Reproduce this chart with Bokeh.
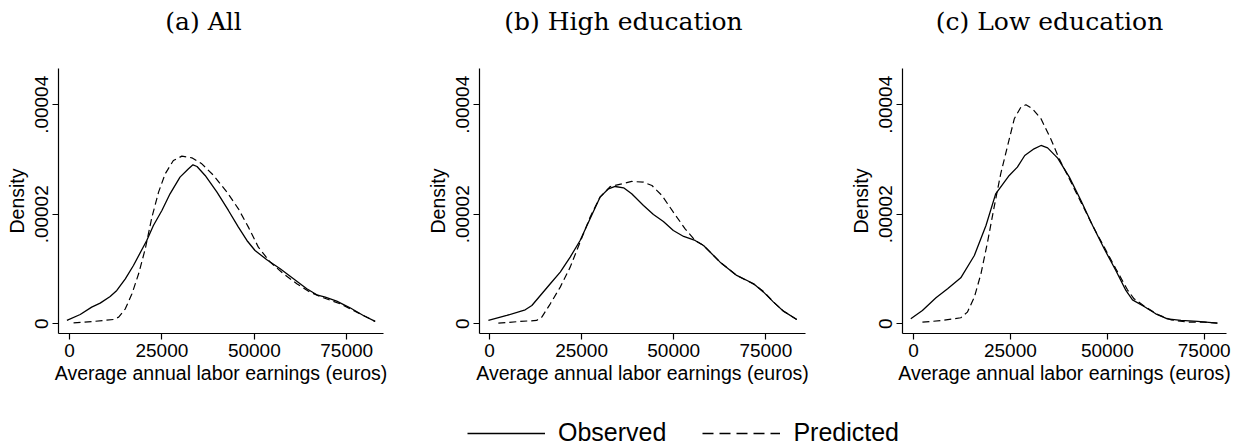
from bokeh.plotting import figure
from bokeh.models import (Range1d, FixedTicker, CustomJSTickFormatter, Label,
                          Legend, LegendItem, ColumnDataSource)
from bokeh.layouts import row, column
from bokeh.embed import file_html
from bokeh.resources import INLINE

# ---------------- data ----------------
titles = ["(a) All", "(b) High education", "(c) Low education"]
x_label = "Average annual labor earnings (euros)"
y_label = "Density"
x_ticks = [0, 25000, 50000, 75000]
y_ticks = [0, 0.00002, 0.00004]
legend_labels = ["Observed", "Predicted"]

all_obs_x = [-700, 2900, 6000, 8300, 11000, 12800, 15100, 17300, 20900, 22700, 25000,
             27200, 29900, 32200, 33400, 34500, 36700, 39900, 43000, 45700, 48000,
             50200, 53400, 57000, 60600, 64200, 66900, 69200, 72300, 75900, 79500, 82700]
all_obs_y = [6.1e-7, 1.70e-6, 3.04e-6, 3.77e-6, 4.99e-6, 6.09e-6, 8.22e-6, 1.065e-5,
             1.522e-5, 1.796e-5, 2.07e-5, 2.374e-5, 2.679e-5, 2.831e-5, 2.904e-5,
             2.873e-5, 2.709e-5, 2.405e-5, 2.07e-5, 1.766e-5, 1.522e-5, 1.339e-5,
             1.169e-5, 1.005e-5, 8.22e-6, 6.39e-6, 5.30e-6, 4.87e-6, 4.14e-6, 2.92e-6,
             1.52e-6, 4.3e-7]
all_pred_x = [1100, 6500, 11900, 13300, 15100, 16900, 18700, 20500, 22300, 24100, 25900,
              28100, 30400, 33100, 35800, 39000, 42600, 45700, 48400, 51100, 54300,
              57900, 61500, 65100, 68700, 73200, 76800, 79500, 82700]
all_pred_y = [1.8e-7, 4.3e-7, 7.9e-7, 1.22e-6, 2.74e-6, 5.48e-6, 9.13e-6, 1.37e-5,
              1.948e-5, 2.405e-5, 2.74e-5, 2.983e-5, 3.062e-5, 3.032e-5, 2.922e-5,
              2.709e-5, 2.405e-5, 2.10e-5, 1.766e-5, 1.40e-5, 1.126e-5, 9.13e-6,
              7.31e-6, 5.78e-6, 4.75e-6, 3.65e-6, 2.44e-6, 1.52e-6, 4.3e-7]

high_obs_x = [-300, 4700, 9700, 11500, 13800, 16500, 19200, 21900, 24600, 27300, 30000,
              32300, 34100, 36400, 38600, 41800, 44500, 47200, 49900, 52700, 55800,
              58100, 62600, 67100, 71700, 74400, 77100, 79800, 83400]
high_obs_y = [6.1e-7, 1.52e-6, 2.56e-6, 3.35e-6, 5.17e-6, 7.31e-6, 9.44e-6, 1.218e-5,
              1.522e-5, 1.918e-5, 2.313e-5, 2.466e-5, 2.508e-5, 2.484e-5, 2.374e-5,
              2.161e-5, 1.997e-5, 1.869e-5, 1.705e-5, 1.595e-5, 1.522e-5, 1.431e-5,
              1.126e-5, 8.83e-6, 7.31e-6, 5.78e-6, 3.96e-6, 2.31e-6, 7.9e-7]
high_pred_x = [2400, 8300, 12800, 14200, 16500, 19200, 21900, 24600, 27300, 30000, 32800,
               35900, 38600, 41800, 44100, 46800, 49900, 53100, 55800, 58100, 62600,
               67100, 71700, 74400, 77100, 79800, 83400]
high_pred_y = [1.2e-7, 4.3e-7, 6.1e-7, 1.22e-6, 3.65e-6, 6.70e-6, 1.035e-5, 1.492e-5,
               1.948e-5, 2.313e-5, 2.508e-5, 2.557e-5, 2.60e-5, 2.587e-5, 2.526e-5,
               2.344e-5, 2.039e-5, 1.735e-5, 1.522e-5, 1.431e-5, 1.126e-5, 8.83e-6,
               7.25e-6, 5.90e-6, 3.96e-6, 2.31e-6, 7.9e-7]

low_obs_x = [-700, 2300, 5800, 8800, 12200, 15700, 18700, 21200, 24700, 26800, 28700,
             31100, 32900, 34600, 37200, 40200, 43200, 46200, 49200, 52200, 54800,
             56500, 59500, 62500, 65500, 69000, 73300, 78400]
low_obs_y = [9.1e-7, 2.44e-6, 4.75e-6, 6.39e-6, 8.40e-6, 1.248e-5, 1.796e-5, 2.374e-5,
             2.709e-5, 2.861e-5, 3.074e-5, 3.196e-5, 3.257e-5, 3.214e-5, 3.026e-5,
             2.679e-5, 2.253e-5, 1.796e-5, 1.37e-5, 9.74e-6, 6.09e-6, 4.38e-6, 3.17e-6,
             1.83e-6, 9.1e-7, 6.1e-7, 4.3e-7, 1.2e-7]
low_pred_x = [2300, 7500, 12200, 13900, 15700, 17400, 19100, 20800, 22500, 24300, 26000,
              27700, 29000, 30700, 32900, 35400, 37600, 40200, 43200, 46200, 49200,
              52200, 55200, 56900, 59900, 63000, 66400, 70700, 75000, 78400]
low_pred_y = [3.0e-7, 6.1e-7, 1.1e-6, 2.13e-6, 4.87e-6, 9.13e-6, 1.492e-5, 2.131e-5,
              2.74e-5, 3.257e-5, 3.744e-5, 3.957e-5, 4.0e-5, 3.927e-5, 3.744e-5,
              3.379e-5, 3.014e-5, 2.648e-5, 2.222e-5, 1.796e-5, 1.40e-5, 1.005e-5,
              6.21e-6, 4.57e-6, 3.04e-6, 1.70e-6, 7.3e-7, 3.0e-7, 3.0e-7, 1.2e-7]

panels = [
    (all_obs_x, all_obs_y, all_pred_x, all_pred_y),
    (high_obs_x, high_obs_y, high_pred_x, high_pred_y),
    (low_obs_x, low_obs_y, low_pred_x, low_pred_y),
]

# ---------------- layout / styles ----------------
SANS = "Liberation Sans"
SERIF = "DejaVu Serif"
W_TOTAL, H_TOTAL = 1239, 447
TITLE_H = 40
ROW_H = 350
TOP = 28
FRAME_H = 265
LEG_H = H_TOTAL - TITLE_H - ROW_H
# (fig width, border left, frame width, x start, x end, title centre on page)
geo = [
    (413, 58, 325, -2976, 84957, 203),
    (413, 66, 326, -2714, 85776, 623),
    (413, 76, 324, -2838, 80753, 1049),
]
Y0, Y1 = -1.772e-6, 4.663e-5

# ---------------- title strip ----------------
ts = figure(width=W_TOTAL, height=TITLE_H, output_backend="svg", toolbar_location=None,
            x_range=Range1d(0, W_TOTAL), y_range=Range1d(0, TITLE_H),
            x_axis_type=None, y_axis_type=None, min_border=0)
ts.grid.visible = False
ts.outline_line_color = None
for i, txt in enumerate(titles):
    ts.add_layout(Label(x=geo[i][5], y=TITLE_H - 21, text=txt, text_align="center",
                        text_baseline="middle", text_font=SERIF,
                        text_font_size="25px", text_color="black"))

figs = []
for i, (ox, oy, px, py) in enumerate(panels):
    w, bl, fw, xs, xe, _ = geo[i]
    p = figure(width=w, height=ROW_H, output_backend="svg", toolbar_location=None,
               x_range=Range1d(xs, xe), y_range=Range1d(Y0, Y1),
               min_border_left=bl, min_border_right=w - bl - fw,
               min_border_top=TOP, min_border_bottom=ROW_H - TOP - FRAME_H)
    p.grid.visible = False
    p.outline_line_color = None
    p.background_fill_color = "white"
    p.border_fill_color = "white"

    p.line(ox, oy, line_color="black", line_width=1.3)
    p.line(px, py, line_color="black", line_width=1.2, line_dash="7 4")

    xa = p.xaxis[0]
    xa.ticker = FixedTicker(ticks=x_ticks)
    xa.formatter = CustomJSTickFormatter(code="return tick.toFixed(0);")
    xa.axis_label = x_label
    ya = p.yaxis[0]
    ya.ticker = FixedTicker(ticks=y_ticks)
    ya.formatter = CustomJSTickFormatter(
        code="return tick == 0 ? '0' : tick.toFixed(5).replace(/^0/, '');")
    ya.axis_label = y_label
    ya.major_label_orientation = "vertical"
    for ax in (xa, ya):
        ax.minor_tick_line_color = None
        ax.major_tick_in = 0
        ax.major_tick_out = 6
        ax.axis_line_color = "black"
        ax.major_tick_line_color = "black"
        ax.axis_line_width = 1.2
        ax.major_tick_line_width = 1.2
        ax.major_label_text_font = SANS
        ax.major_label_text_font_size = "19px"
        ax.major_label_text_color = "black"
        ax.axis_label_text_font = SANS
        ax.axis_label_text_font_size = "19.5px"
        ax.axis_label_text_font_style = "normal"
        ax.axis_label_text_color = "black"
    xa.major_label_standoff = 4
    xa.axis_label_standoff = 2
    ya.major_label_standoff = 4
    ya.axis_label_standoff = 5
    figs.append(p)

# ---------------- legend strip ----------------
lg = figure(width=W_TOTAL, height=LEG_H, output_backend="svg", toolbar_location=None,
            x_range=Range1d(0, 1), y_range=Range1d(0, 1),
            x_axis_type=None, y_axis_type=None, min_border=0)
lg.grid.visible = False
lg.outline_line_color = None
nan = float("nan")
dummy = ColumnDataSource(data=dict(x=[nan], y=[nan]))
r_obs = lg.line("x", "y", source=dummy, line_color="black", line_width=1.5)
r_pred = lg.line("x", "y", source=dummy, line_color="black", line_width=1.5,
                 line_dash="11 6")
leg = Legend(items=[LegendItem(label=legend_labels[0], renderers=[r_obs]),
                    LegendItem(label=legend_labels[1], renderers=[r_pred])],
             orientation="horizontal", location=(467, 0), glyph_width=78,
             label_standoff=13, spacing=36, padding=0, margin=0,
             border_line_color=None, background_fill_alpha=0,
             label_text_font=SANS, label_text_font_size="25px",
             label_text_color="black")
lg.add_layout(leg)

layout = column(ts, row(*figs), lg)
open("out.html", "w").write(file_html(layout, INLINE))
